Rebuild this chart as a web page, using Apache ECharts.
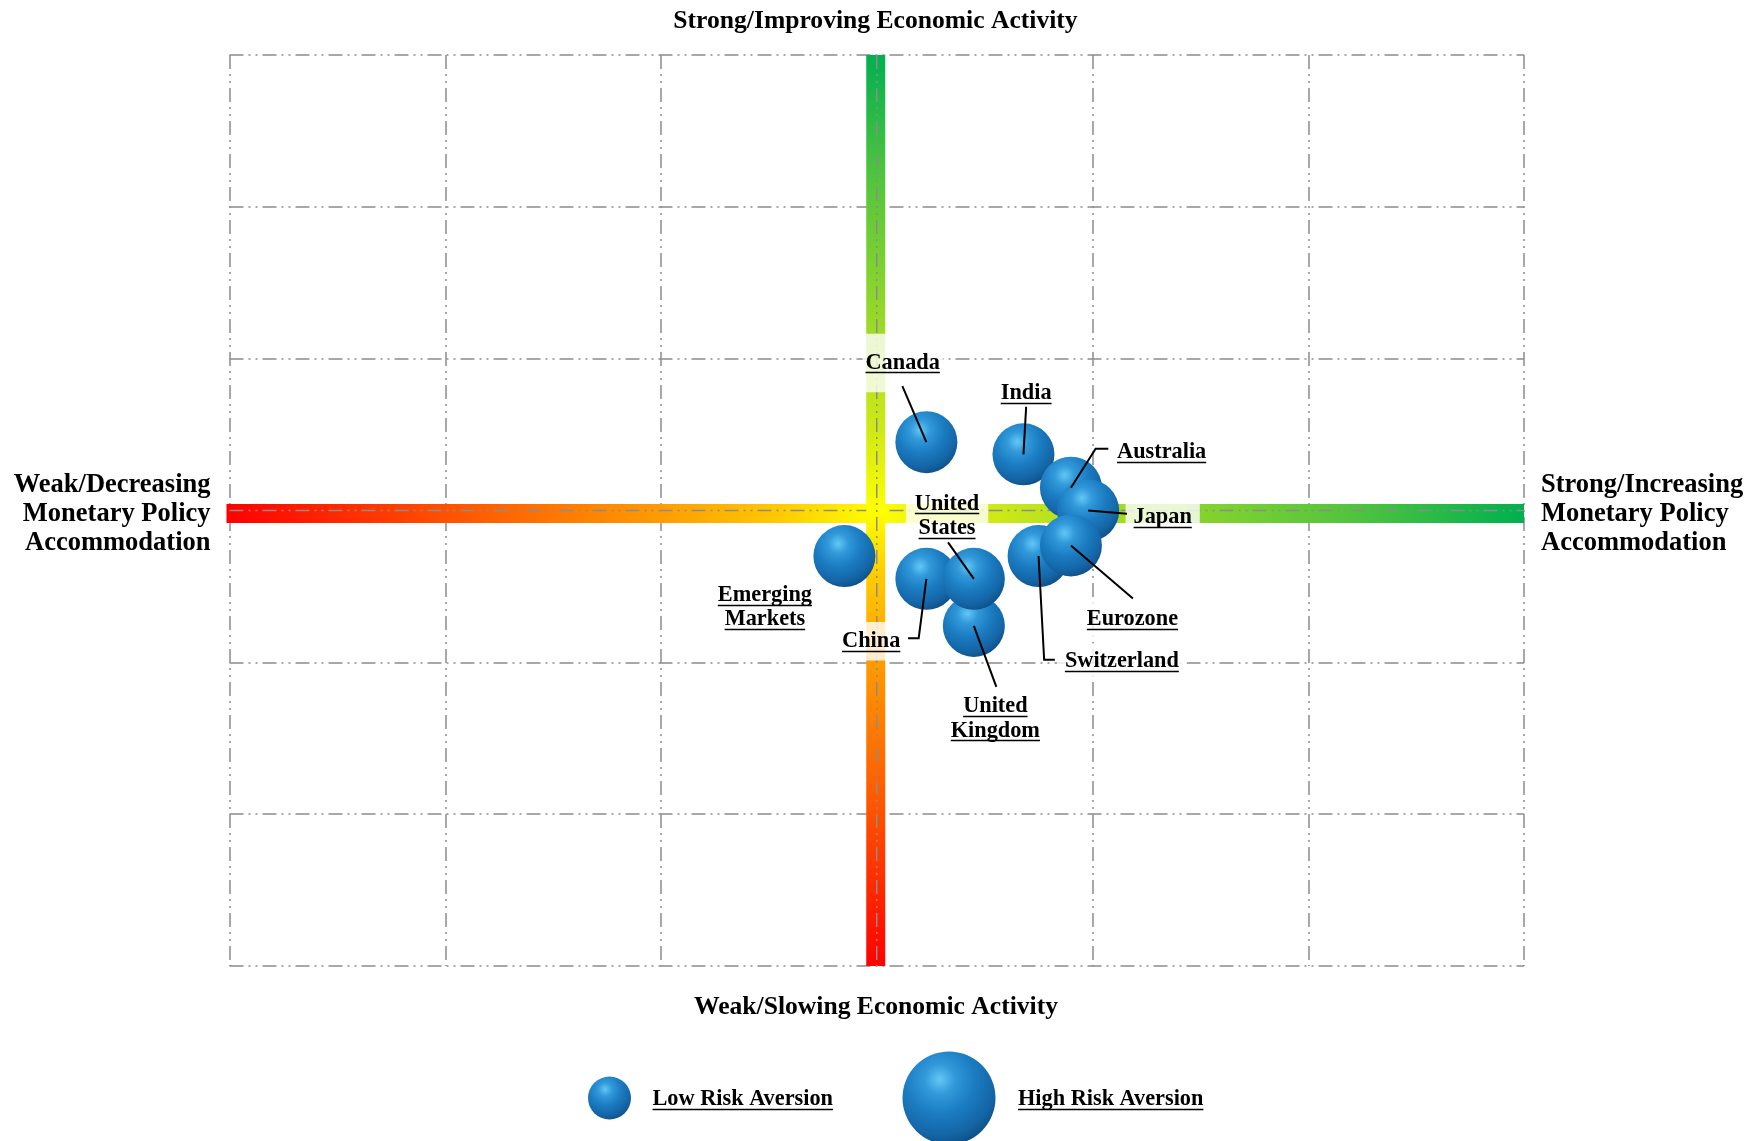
<!DOCTYPE html>
<html>
<head>
<meta charset="utf-8">
<script src="https://cdn.jsdelivr.net/npm/echarts@6/dist/echarts.min.js"></script>
<style>
html,body{margin:0;padding:0;background:#ffffff;}
#chart{width:1764px;height:1141px;}
</style>
</head>
<body>
<div id="chart"></div>
<script>
// ---------------- DATA ----------------
const countries = ['Canada', 'Emerging Markets', 'India', 'Australia', 'Japan', 'Switzerland', 'Eurozone', 'China', 'United Kingdom', 'United States'];
// x: monetary policy accommodation (weak/decreasing -> strong/increasing)
const monetaryPolicy = [0.23, -0.15, 0.68, 0.90, 0.98, 0.75, 0.90, 0.23, 0.45, 0.45];
// y: economic activity (weak/slowing -> strong/improving)
const economicActivity = [0.45, -0.30, 0.37, 0.15, 0.00, -0.30, -0.23, -0.45, -0.76, -0.45];
// bubble size: risk aversion (0 = low, 1 = high)
const riskAversion = [0.38, 0.38, 0.38, 0.38, 0.38, 0.38, 0.38, 0.38, 0.38, 0.38];
const axisMin = -3, axisMax = 3, axisInterval = 1;
const topTitle = 'Strong/Improving Economic Activity';
const bottomTitle = 'Weak/Slowing Economic Activity';
const leftTitle = ['Weak/Decreasing', 'Monetary Policy', 'Accommodation'];
const rightTitle = ['Strong/Increasing', 'Monetary Policy', 'Accommodation'];
const legendNames = ['Low Risk Aversion', 'High Risk Aversion'];
const legendRisk = [0, 1];
const countryLabelLines = {
  'United States': ['United', 'States'],
  'United Kingdom': ['United', 'Kingdom'],
  'Emerging Markets': ['Emerging', 'Markets']
};

// ---------------- LAYOUT (pixel offsets from bubble centre) ----------------
const labelLayout = {
  'Canada':          {dx: -23.7, dy: -81.3, padX: 3, padY: 17, leader: [[-24, -56], [0, 0]]},
  'India':           {dx: 2.7,   dy: -62.8, padX: 4, padY: 6,  leader: [[2.7, -47.6], [0, 0]]},
  'Australia':       {dx: 90.7,  dy: -37.3, padX: 8, padY: 6,  leader: [[37.4, -39], [24.7, -39], [0, 0]]},
  'Japan':           {dx: 74.5,  dy: 5,     padX: 8, padY: 6,  leader: [[38.8, 3.3], [0, 0]]},
  'Eurozone':        {dx: 61.5,  dy: 72,    padX: 8, padY: 6,  leader: [[62, 53], [0, 0]]},
  'Switzerland':     {dx: 83.3,  dy: 103.4, padX: 8, padY: 6,  leader: [[16.3, 103.7], [5.6, 103.7], [0, 0]]},
  'United States':   {dx: -26.8, dy: -64.7, padX: 9, padY: 2,  leader: [[-25.8, -36.5], [0, 0]]},
  'China':           {dx: -55.2, dy: 60.3,  padX: 5, padY: 7,  leader: [[-18.3, 59.3], [-7.7, 59.3], [0, 0]]},
  'United Kingdom':  {dx: 21.5,  dy: 90.7,  padX: 6, padY: 4,  leader: [[22.5, 61], [0, 0]]},
  'Emerging Markets':{dx: -79.5, dy: 49.3,  padX: 6, padY: 4,  leader: null}
};

const FONT_FAMILY = '"Liberation Serif", "Times New Roman", serif';
const LABEL_SIZE = 22.3;
const TITLE_SIZE = 25.6;
const SIDE_SIZE = 26.5;
const LINE_H = 24.5;
const LABEL_TEXT_SHIFT = 2;

function bubbleSize(r) { return 43 + 50 * r; }

const measureCtx = document.createElement('canvas').getContext('2d');
function textWidth(s, size) {
  measureCtx.font = 'bold ' + size + 'px ' + FONT_FAMILY;
  return measureCtx.measureText(s).width;
}

function underlinedText(lines, x, cy, size, align, lineH) {
  const els = [];
  const n = lines.length;
  lines.forEach(function (s, k) {
    const y = cy + (k - (n - 1) / 2) * lineH;
    const w = textWidth(s, size);
    const x0 = align === 'center' ? x - w / 2 : (align === 'right' ? x - w : x);
    els.push({
      type: 'text',
      style: {text: s, x: x, y: y, align: align, verticalAlign: 'middle',
              font: 'bold ' + size + 'px ' + FONT_FAMILY, fill: '#000'}
    });
    const uy = Math.round(y + size * 0.36 + 1.5) + 0.5;
    els.push({
      type: 'line',
      shape: {x1: x0, y1: uy, x2: x0 + w, y2: uy},
      style: {stroke: '#000', lineWidth: 1.4}
    });
  });
  return els;
}

function plainText(lines, x, cy, size, align, lineH) {
  const n = lines.length;
  return lines.map(function (s, k) {
    return {
      type: 'text',
      style: {text: s, x: x, y: cy + (k - (n - 1) / 2) * lineH, align: align, verticalAlign: 'middle',
              font: 'bold ' + size + 'px ' + FONT_FAMILY, fill: '#000'}
    };
  });
}

function sphereFill() {
  return new echarts.graphic.RadialGradient(0.4, 0.3, 0.75, [
    {offset: 0, color: '#63c7f5'},
    {offset: 0.22, color: '#3199da'},
    {offset: 0.5, color: '#1b7cc2'},
    {offset: 0.8, color: '#1465a6'},
    {offset: 0.93, color: '#10558f'},
    {offset: 1, color: '#0c4476'}
  ]);
}

const barStops = [
  {offset: 0, color: '#ff0000'},
  {offset: 0.17, color: '#ff5200'},
  {offset: 0.33, color: '#ff9a00'},
  {offset: 0.43, color: '#ffcc00'},
  {offset: 0.5, color: '#ffff00'},
  {offset: 0.59, color: '#cfe915'},
  {offset: 0.72, color: '#93d72a'},
  {offset: 0.86, color: '#55c53c'},
  {offset: 1, color: '#00b050'}
];

const gridDash = [14, 5, 2, 5, 2, 5];
const gridColor = '#8c8c8c';

const chart = echarts.init(document.getElementById('chart'), null, {renderer: 'canvas'});

const scatterData = countries.map(function (c, i) {
  return {name: c, value: [monetaryPolicy[i], economicActivity[i], riskAversion[i]]};
});

const axisCommon = {
  type: 'value', min: axisMin, max: axisMax, interval: axisInterval,
  axisLine: {show: false}, axisTick: {show: false}, axisLabel: {show: false},
  splitLine: {show: true, lineStyle: {color: gridColor, width: 1.5, type: gridDash}}
};

const legendX = [609.5, 949];
const legendTextX = [652.5, 1018];
const legendY = 1098;

const graphicEls = [];
graphicEls.push.apply(graphicEls, plainText([topTitle], 875.5, 21.5, TITLE_SIZE, 'center', 29));
graphicEls.push.apply(graphicEls, plainText([bottomTitle], 876, 1007, TITLE_SIZE, 'center', 29));
graphicEls.push.apply(graphicEls, plainText(leftTitle, 210.5, 514.5, SIDE_SIZE, 'right', 29));
graphicEls.push.apply(graphicEls, plainText(rightTitle, 1541, 514.5, SIDE_SIZE, 'left', 29));
legendNames.forEach(function (nm, i) {
  graphicEls.push({
    type: 'circle',
    shape: {cx: legendX[i], cy: legendY, r: bubbleSize(legendRisk[i]) / 2},
    style: {fill: sphereFill()}
  });
  graphicEls.push.apply(graphicEls, underlinedText([nm], legendTextX[i], legendY + 1.5, LABEL_SIZE, 'left', LINE_H));
});

const option = {
  animation: false,
  backgroundColor: '#ffffff',
  grid: {left: 229.5, right: 240, top: 55, bottom: 175, containLabel: false},
  xAxis: axisCommon,
  yAxis: axisCommon,
  graphic: {elements: graphicEls.map(function (e) { return Object.assign({}, e, {silent: true}); })},
  series: [
    {
      // gradient axis bars through the centre
      type: 'custom',
      z: 1,
      clip: false,
      silent: true,
      data: [[0, 0, 0], [0, 0, 1]],
      renderItem: function (params, api) {
        const vertical = api.value(2) === 1;
        const a = vertical ? api.coord([0, axisMax]) : api.coord([axisMin, 0]);
        const b = vertical ? api.coord([0, axisMin]) : api.coord([axisMax, 0]);
        const t = 19;
        const rect = vertical
          ? {x: a[0] - t / 2 - 1, y: a[1], width: t, height: b[1] - a[1]}
          : {x: a[0] - 3, y: a[1] - t / 2 + 3, width: b[0] - a[0] + 3, height: t};
        const grad = vertical
          ? new echarts.graphic.LinearGradient(0, 1, 0, 0, barStops)
          : new echarts.graphic.LinearGradient(0, 0, 1, 0, barStops);
        return {
          type: 'group',
          children: [
            {type: 'rect', shape: rect, style: {fill: grad}},
            {type: 'line', shape: {x1: a[0], y1: a[1], x2: b[0], y2: b[1]},
             style: {stroke: gridColor, lineWidth: 1.5, lineDash: gridDash}}
          ]
        };
      }
    },
    {
      type: 'scatter',
      z: 3,
      data: scatterData,
      symbol: 'circle',
      symbolSize: function (v) { return bubbleSize(v[2]); },
      itemStyle: {color: sphereFill(), opacity: 1},
      emphasis: {disabled: true}
    },
    {
      // country labels with underline, translucent box and leader lines
      type: 'custom',
      z: 5,
      clip: false,
      silent: true,
      data: scatterData.map(function (d) { return d.value; }),
      renderItem: function (params, api) {
        const name = countries[params.dataIndex];
        const L = labelLayout[name];
        const c = api.coord([api.value(0), api.value(1)]);
        const lines = countryLabelLines[name] || [name];
        const cx = c[0] + L.dx, cy = c[1] + L.dy + LABEL_TEXT_SHIFT;
        let maxW = 0;
        lines.forEach(function (s) { maxW = Math.max(maxW, textWidth(s, LABEL_SIZE)); });
        const h = lines.length * LINE_H;
        const children = [{
          type: 'rect',
          shape: {x: cx - maxW / 2 - L.padX, y: cy - h / 2 - L.padY, width: maxW + 2 * L.padX, height: h + 2 * L.padY},
          style: {fill: 'rgba(255,255,255,0.8)'}
        }];
        children.push.apply(children, underlinedText(lines, cx, cy, LABEL_SIZE, 'center', LINE_H));
        if (L.leader) {
          children.push({
            type: 'polyline',
            shape: {points: L.leader.map(function (p) { return [c[0] + p[0], c[1] + p[1]]; })},
            style: {stroke: '#000', lineWidth: 2, fill: null}
          });
        }
        return {type: 'group', children: children};
      }
    }
  ]
};
chart.setOption(option);
</script>
</body>
</html>
